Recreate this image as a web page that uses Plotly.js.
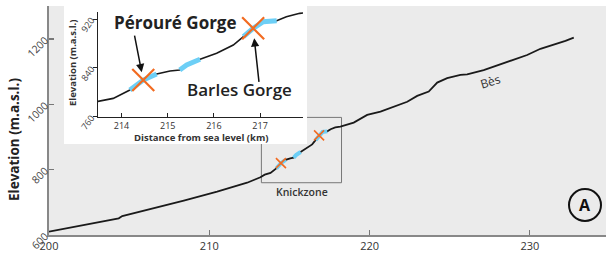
<!DOCTYPE html>
<html><head><meta charset="utf-8">
<script src="https://cdn.plot.ly/plotly-3.0.1.min.js"></script>
<style>html,body{margin:0;padding:0;background:#fff}#chart{width:606px;height:254px}</style>
</head><body><div id="chart"></div>
<script>
// Longitudinal profile of the Bès river (distance from sea level, km; elevation, m a.s.l.)
const distanceKm = [200.0, 202.59, 204.35, 204.57, 206.13, 206.96, 208.41, 210.49, 212.36, 213.19,
  213.46, 213.82, 214.18, 214.47, 214.76, 215.05, 215.26, 215.41, 215.70, 216.06, 216.42, 216.64,
  216.85, 217.07, 217.36, 217.57, 217.86, 218.18, 219.01, 219.85, 220.68, 221.72, 222.35, 222.97,
  223.69, 224.22, 224.84, 225.67, 226.09, 227.12, 228.37, 229.83, 230.66, 231.49, 232.22, 232.74];
const elevationM = [610, 633.7, 651, 658, 676.6, 688.8, 705, 732.6, 760, 776.7,
  784.6, 790, 803.7, 820, 830, 834.8, 836.5, 844.7, 854, 863.8, 877.4, 891,
  904.8, 915.6, 917.2, 923.8, 929.3, 931.7, 944, 967.5, 977.6, 998, 1008, 1025.7,
  1039, 1066.5, 1080, 1090, 1092, 1105, 1126, 1151, 1170, 1182, 1194, 1204];
const gorgeNames = ['Pérouré Gorge', 'Barles Gorge'];
const gorgeKm = [214.47, 216.85];
const gorgeElev = [820, 904.8];
const steepReachStart = [214.18, 215.26, 216.64];
const steepReachEnd = [214.76, 215.70, 217.36];
const knickzoneKm = [213.25, 218.25];
const knickzoneElev = [760, 960];
const mainXTicks = [200, 210, 220, 230];
const mainYTicks = [600, 800, 1000, 1200];
const insetXTicks = [214, 215, 216, 217];
const insetYTicks = [760, 840, 920];

// steep reaches (blue) as subsets of the profile
const blueX = [], blueY = [];
steepReachStart.forEach((s, i) => {
  distanceKm.forEach((d, j) => {
    if (d >= s - 1e-9 && d <= steepReachEnd[i] + 1e-9) { blueX.push(d); blueY.push(elevationM[j]); }
  });
  blueX.push(null); blueY.push(null);
});

const FONT = 'Open Sans, Noto Sans, sans-serif';
const L = 49, T = 6, PW = 557, PH = 229;
const px = x => (x - L) / PW;
const py = y => (T + PH - y) / PH;

const BLACK = '#1a1a1a', BLUE = '#6dcff6', ORANGE = '#f26b21';

const traces = [
  {x: distanceKm, y: elevationM, xaxis: 'x', yaxis: 'y', mode: 'lines',
   line: {color: BLACK, width: 1.8}, hoverinfo: 'skip'},
  {x: blueX, y: blueY, xaxis: 'x', yaxis: 'y', mode: 'lines',
   line: {color: BLUE, width: 4}, hoverinfo: 'skip'},
  {x: gorgeKm, y: gorgeElev, xaxis: 'x', yaxis: 'y', mode: 'markers', text: gorgeNames,
   marker: {symbol: 'x-thin', size: 10, line: {color: ORANGE, width: 1.6}}},
  {x: [], y: [], xaxis: 'x2', yaxis: 'y2', mode: 'lines', hoverinfo: 'skip'},
  {x: distanceKm, y: elevationM, xaxis: 'x3', yaxis: 'y3', mode: 'lines',
   line: {color: BLACK, width: 1.6}, hoverinfo: 'skip'},
  {x: blueX, y: blueY, xaxis: 'x3', yaxis: 'y3', mode: 'lines',
   line: {color: BLUE, width: 5}, hoverinfo: 'skip'},
  {x: gorgeKm, y: gorgeElev, xaxis: 'x3', yaxis: 'y3', mode: 'markers', text: gorgeNames,
   marker: {symbol: 'x-thin', size: 22, line: {color: ORANGE, width: 2.2}}}
];

function label(x, y, text, size, opts) {
  return Object.assign({xref: 'paper', yref: 'paper', x: px(x), y: py(y), text: text,
    showarrow: false, xanchor: 'center', yanchor: 'middle',
    font: {size: size, color: '#222', family: FONT}}, opts || {});
}

const layout = {
  width: 606, height: 254,
  margin: {l: L, r: 0, t: T, b: 254 - T - PH, pad: 0},
  paper_bgcolor: '#ffffff', plot_bgcolor: '#ffffff',
  showlegend: false,
  font: {family: FONT, color: '#333'},
  xaxis: {domain: [0, 1], range: [200, 234.75], anchor: 'y', tickvals: mainXTicks,
    ticks: 'inside', ticklen: 5, tickcolor: '#777', tickwidth: 1.2,
    showline: true, linecolor: '#888', linewidth: 1.6, showgrid: false, zeroline: false,
    tickfont: {size: 11, color: '#333', family: FONT}},
  yaxis: {domain: [0, 1], range: [600, 1301], anchor: 'x', tickvals: mainYTicks,
    ticks: 'inside', ticklen: 5, tickcolor: '#777', tickwidth: 1.2, tickangle: -45,
    showline: true, linecolor: '#888', linewidth: 1.6, showgrid: false, zeroline: false,
    tickfont: {size: 10.5, color: '#444', family: FONT}},
  xaxis2: {domain: [px(64), px(307)], range: [0, 1], anchor: 'y2', visible: false},
  yaxis2: {domain: [py(144), 1], range: [0, 1], anchor: 'x2', visible: false},
  xaxis3: {domain: [px(98), px(303)], range: [213.49, 217.93], anchor: 'y3', tickvals: insetXTicks,
    ticks: 'inside', ticklen: 4, tickcolor: '#222', tickwidth: 1,
    showline: true, linecolor: '#222', linewidth: 1, showgrid: false, zeroline: false,
    tickfont: {size: 9, color: '#333', family: FONT}},
  yaxis3: {domain: [py(116.7), py(12)], range: [760, 931.5], anchor: 'x3', tickvals: insetYTicks,
    ticks: 'outside', ticklen: 4, tickcolor: '#222', tickwidth: 1, tickangle: -55,
    showline: true, linecolor: '#222', linewidth: 1, showgrid: false, zeroline: false,
    tickfont: {size: 9, color: '#444', family: FONT}},
  shapes: [
    {type: 'rect', xref: 'paper', yref: 'paper', x0: 0, x1: 1, y0: 0, y1: 1,
     fillcolor: '#ebebeb', line: {width: 0}, layer: 'below'},
    {type: 'rect', xref: 'x', yref: 'y', x0: knickzoneKm[0], x1: knickzoneKm[1],
     y0: knickzoneElev[0], y1: knickzoneElev[1], line: {color: '#777', width: 1}, layer: 'below'},
    {type: 'circle', xref: 'paper', yref: 'paper', x0: px(569), x1: px(601), y0: py(221), y1: py(189),
     line: {color: '#111', width: 2}, layer: 'above'}
  ],
  annotations: [
    label(14, 140, 'Elevation (m.a.s.l.)', 13.5, {textangle: -90, font: {size: 13.5, color: '#222', family: FONT, weight: 700}}),
    label(490, 81, 'Bès', 12, {textangle: -17, font: {size: 12, color: '#333', family: FONT}}),
    label(302, 192, 'Knickzone', 10.5, {font: {size: 10.5, color: '#333', family: FONT, weight: 600}}),
    label(585, 205, 'A', 16, {font: {size: 16, color: '#111', family: FONT, weight: 700}}),
    label(201, 137.5, 'Distance from sea level (km)', 9.5, {font: {size: 9.5, color: '#333', family: FONT, weight: 700}}),
    label(72, 63, 'Elevation (m.a.s.l.)', 9.5, {textangle: -90, font: {size: 9.5, color: '#333', family: FONT, weight: 700}}),
    label(175, 22, gorgeNames[0], 17, {font: {size: 17, color: '#222', family: FONT, weight: 700}}),
    label(239, 90, gorgeNames[1], 17, {font: {size: 17, color: '#222', family: FONT, weight: 600}}),
    {xref: 'x3', yref: 'y3', x: gorgeKm[0], y: gorgeElev[0], text: '', showarrow: true,
     ax: -9, ay: -46, standoff: 8, arrowhead: 2, arrowsize: 1.1, arrowwidth: 1.5, arrowcolor: '#111'},
    {xref: 'x3', yref: 'y3', x: gorgeKm[1], y: gorgeElev[1], text: '', showarrow: true,
     ax: 6, ay: 55, standoff: 10, arrowhead: 2, arrowsize: 1.1, arrowwidth: 1.5, arrowcolor: '#111'}
  ]
};

Plotly.newPlot('chart', traces, layout, {staticPlot: true, displayModeBar: false});
</script>
</body></html>
